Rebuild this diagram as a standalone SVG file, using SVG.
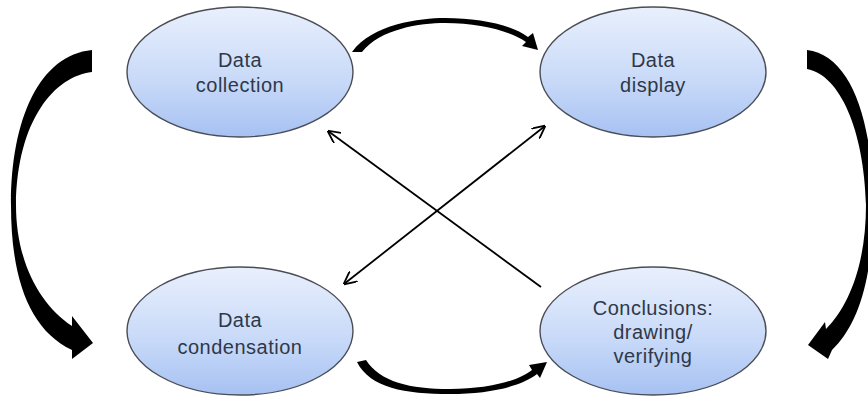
<svg xmlns="http://www.w3.org/2000/svg" width="868" height="396" viewBox="0 0 868 396">
<defs>
<linearGradient id="fillg" x1="0" y1="0" x2="0" y2="1">
<stop offset="0" stop-color="#e9f0fc"/>
<stop offset="0.6" stop-color="#c6d8f8"/>
<stop offset="1" stop-color="#a6c1f2"/>
</linearGradient>
<marker id="chev" viewBox="0 0 10 10" refX="9.5" refY="5" markerWidth="13" markerHeight="13" markerUnits="userSpaceOnUse" orient="auto-start-reverse">
<path d="M0,0 L10,5 L0,10" fill="none" stroke="#000" stroke-width="1.4"/>
</marker>
</defs>
<style>
.node ellipse{fill:url(#fillg);stroke:#4a4d55;stroke-width:1.4}
.node text{font-family:"Liberation Sans",Arial,sans-serif;font-size:20px;letter-spacing:0.5px;fill:#2f3848;text-anchor:middle}
.thin{fill:none;stroke:#000;stroke-width:1.8}
.thick{fill:#000;stroke:none}
</style>
<rect width="868" height="396" fill="#fff"/>
<g id="connectors">
<path class="thick" d="M92,50 L92,72 C55,76 17,120 16,205 C16,262 40,305 72,326 L72,316 L93,343 L72,359 L72,350 C30,330 11,280 11,205 C11,118 40,55 92,50 Z"/>
<path class="thick" d="M807,50 L807,69 C840,75 864,130 866,205 C866,262 850,305 826,329 L825,322 L808,345 L828,359 L832,350 C858,325 873,280 873,205 C873,118 850,55 807,50 Z"/>
<path class="thick" d="M352,52 C372,24 420,18 445,18 C480,18 512,25 528,37 L533,33 L538,50 L522,46 L526,42 C510,31 480,23 445,23 C420,23 380,29 362,52 Z"/>
<path class="thick" d="M357,362 L366,360 C380,382 410,389 450,389 C490,389 520,380 532,370 L529,365 L547,362 L540,378 L537,374 C522,386 490,394 450,394 C405,394 370,388 357,362 Z"/>
<path class="thin" d="M541,287 L328,131" marker-end="url(#chev)"/>
<path class="thin" d="M344,284 L545,126" marker-start="url(#chev)" marker-end="url(#chev)"/>
</g>
<g id="node-collection" class="node">
<ellipse cx="240" cy="72" rx="113" ry="65"/>
<text x="240" y="67">Data</text>
<text x="240" y="92">collection</text>
</g>
<g id="node-display" class="node">
<ellipse cx="653" cy="72" rx="113" ry="65"/>
<text x="653" y="67">Data</text>
<text x="653" y="92">display</text>
</g>
<g id="node-condensation" class="node">
<ellipse cx="240" cy="331" rx="113" ry="64"/>
<text x="240" y="327">Data</text>
<text x="240" y="354">condensation</text>
</g>
<g id="node-conclusions" class="node">
<ellipse cx="653" cy="331" rx="113" ry="64"/>
<text x="653" y="315">Conclusions:</text>
<text x="653" y="339">drawing/</text>
<text x="653" y="363">verifying</text>
</g>
</svg>
